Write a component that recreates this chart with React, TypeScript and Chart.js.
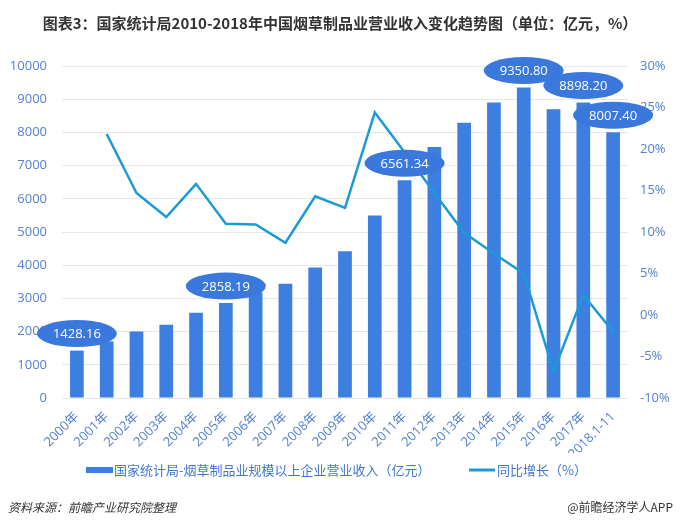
import React, { useEffect, useRef } from "react";
import { Chart, registerables } from "chart.js";

Chart.register(...registerables);

const categories = [
  "2000年", "2001年", "2002年", "2003年", "2004年", "2005年", "2006年", "2007年", "2008年", "2009年",
  "2010年", "2011年", "2012年", "2013年", "2014年", "2015年", "2016年", "2017年", "2018.1-11",
];
const revenue = [
  1428.16, 1705, 2000, 2210, 2570, 2858.19, 3180, 3440, 3930, 4420,
  5500, 6561.34, 7560, 8290, 8900, 9350.8, 8700, 8898.2, 8007.4,
];
const growth: (number | null)[] = [
  null, 21.8, 14.7, 11.8, 15.8, 11.0, 10.9, 8.7, 14.3, 12.9,
  24.4, 19.6, 14.7, 9.9, 7.4, 5.0, -6.8, 2.4, -2.0,
];
const labeledIndices = [0, 5, 11, 15, 17, 18];

const titleText = "图表3：国家统计局2010-2018年中国烟草制品业营业收入变化趋势图（单位：亿元，%）";
const barLabel = "国家统计局-烟草制品业规模以上企业营业收入（亿元）";
const lineLabel = "同比增长（%）";
const sourceText = "资料来源：前瞻产业研究院整理";
const brandText = "@前瞻经济学人APP";

const BAR_COLOR = "#3d7fe0";
const BUBBLE_COLOR = "#3a78db";
const LINE_COLOR = "#1b9ad6";
const TICK_COLOR = "#5581cf";
const FONT = '"Open Sans", "Noto Sans CJK SC", sans-serif';
const CJK = '"Noto Sans CJK SC", sans-serif';

const decorPlugin = {
  id: "decor",
  afterDatasetsDraw(chart: any) {
    const ctx = chart.ctx;
    const meta = chart.getDatasetMeta(1);
    ctx.save();
    labeledIndices.forEach((i) => {
      const el = meta.data[i];
      if (!el) return;
      const cx = el.x;
      const cy = el.y - 17;
      ctx.beginPath();
      ctx.ellipse(cx, cy, 40, 13.5, 0, 0, Math.PI * 2);
      ctx.fillStyle = BUBBLE_COLOR;
      ctx.fill();
      ctx.fillStyle = "#ffffff";
      ctx.font = `13px ${FONT}`;
      ctx.textAlign = "center";
      ctx.textBaseline = "middle";
      ctx.fillText(revenue[i].toFixed(2), cx, cy + 1);
    });
    ctx.restore();
  },
  afterDraw(chart: any) {
    const ctx = chart.ctx;
    ctx.save();
    // title
    ctx.font = `bold 15px ${CJK}`;
    ctx.fillStyle = "#333333";
    ctx.textAlign = "center";
    ctx.textBaseline = "middle";
    ctx.fillText(titleText, 340, 23);
    // legend
    const ly = 470;
    ctx.fillStyle = BAR_COLOR;
    ctx.fillRect(86, ly - 3, 27, 6);
    ctx.font = `13px ${CJK}`;
    ctx.fillStyle = "#4177d2";
    ctx.textAlign = "left";
    ctx.fillText(barLabel, 114, ly);
    ctx.strokeStyle = LINE_COLOR;
    ctx.lineWidth = 3;
    ctx.beginPath();
    ctx.moveTo(469, ly);
    ctx.lineTo(495, ly);
    ctx.stroke();
    ctx.fillText(lineLabel, 497, ly);
    // footer
    ctx.fillStyle = "#333333";
    ctx.font = `italic 12px ${CJK}`;
    ctx.fillText(sourceText, 8, 507);
    ctx.font = `12px ${CJK}`;
    ctx.textAlign = "right";
    ctx.fillText(brandText, 673, 507);
    ctx.restore();
  },
};

export default function App() {
  const ref = useRef<HTMLCanvasElement | null>(null);
  useEffect(() => {
    document.body.style.margin = "0";
    const canvas = ref.current;
    if (!canvas) return;
    const chart = new Chart(canvas, {
      type: "bar",
      data: {
        labels: categories,
        datasets: [
          {
            type: "line",
            label: lineLabel,
            data: growth,
            yAxisID: "y1",
            borderColor: LINE_COLOR,
            borderWidth: 2.5,
            pointRadius: 0,
            tension: 0,
            fill: false,
            order: 0,
          } as any,
          {
            type: "bar",
            label: barLabel,
            data: revenue,
            yAxisID: "y",
            backgroundColor: BAR_COLOR,
            categoryPercentage: 1,
            barPercentage: 0.46,
            order: 1,
          },
        ],
      },
      options: {
        responsive: false,
        animation: false,
        devicePixelRatio: 1,
        layout: { padding: { top: 66, bottom: 70, left: 0, right: 0 } },
        plugins: {
          legend: { display: false },
          title: { display: false },
          tooltip: { enabled: false },
        },
        scales: {
          x: {
            grid: { display: false },
            border: { display: false },
            ticks: {
              color: TICK_COLOR,
              font: { size: 13, family: FONT },
              maxRotation: 45,
              minRotation: 45,
              autoSkip: false,
              padding: 3,
            },
            afterFit(scale: any) {
              scale.height = 55;
            },
          },
          y: {
            position: "left",
            min: 0,
            max: 10000,
            grid: { color: "#e4e7ee", drawTicks: false },
            border: { display: false },
            ticks: {
              stepSize: 500,
              color: TICK_COLOR,
              font: { size: 13, family: FONT },
              padding: 15,
              callback: (v: any) => (Number(v) % 1000 === 0 ? String(v) : ""),
            },
            afterFit(scale: any) {
              scale.width = 62;
            },
          },
          y1: {
            position: "right",
            min: -10,
            max: 30,
            grid: { display: false, drawTicks: false },
            border: { display: false },
            ticks: {
              stepSize: 5,
              color: TICK_COLOR,
              font: { size: 13, family: FONT },
              padding: 12,
              callback: (v: any) => `${v}%`,
            },
            afterFit(scale: any) {
              scale.width = 52;
            },
          },
        },
      },
      plugins: [decorPlugin],
    });
    return () => chart.destroy();
  }, []);
  return (
    <div style={{ width: 680, height: 523, position: "relative", background: "#fff" }}>
      <canvas ref={ref} width={680} height={523} style={{ display: "block" }} />
    </div>
  );
}
